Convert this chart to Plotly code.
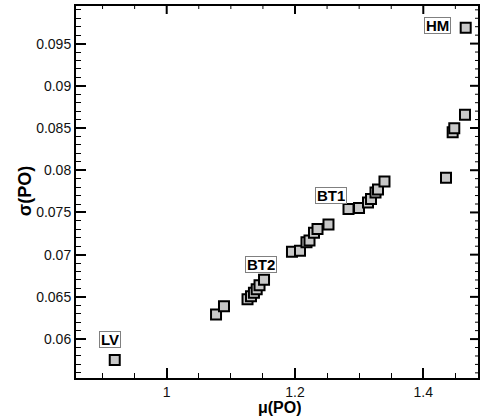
import numpy as np
import plotly.graph_objects as go

# data
mu_po = [0.919, 1.0769, 1.0893,
         1.126, 1.1314, 1.136, 1.1403, 1.1447, 1.1517,
         1.1953, 1.2078, 1.2179, 1.2226, 1.2296, 1.2351, 1.2522,
         1.2834, 1.2998, 1.3138, 1.3185, 1.3255, 1.3294, 1.3395,
         1.4354, 1.4458, 1.4483, 1.4650, 1.4661]
sigma_po = [0.05752, 0.06292, 0.06390,
            0.06472, 0.06508, 0.06549, 0.06591, 0.06638, 0.06703,
            0.07034, 0.07045, 0.07146, 0.07169, 0.07258, 0.07305, 0.07358,
            0.07541, 0.07553, 0.07618, 0.07660, 0.07736, 0.07772, 0.07866,
            0.07910, 0.08449, 0.08496, 0.08658, 0.09689]

label_text = ["HM", "BT1", "BT2", "LV"]
label_x = [1.4229, 1.2566, 1.1470, 0.9121]
label_y = [0.09709, 0.07695, 0.06878, 0.0600]

x_ticks = [1, 1.2, 1.4]
x_ticktext = ["1", "1.2", "1.4"]
y_ticks = [0.06, 0.065, 0.07, 0.075, 0.08, 0.085, 0.09, 0.095]
y_ticktext = ["0.06", "0.065", "0.07", "0.075", "0.08", "0.085", "0.09", "0.095"]

x_range = [0.8586, 1.4884]
y_range = [0.05539, 0.09969]

W, H = 480, 419
ML, MR, MT, MB = 76, 0, 4, 41
PW, PH = W - ML - MR, H - MT - MB
dx = (x_range[1] - x_range[0]) / PW   # data units per pixel
dy = (y_range[1] - y_range[0]) / PH

FONT = "Liberation Sans, Arial, Helvetica, sans-serif"

fig = go.Figure()

# top / right frame and mirrored ticks, built from the ranges and tick lists
x_minor_vals = [v for v in np.round(np.arange(0.85, 1.5, 0.05), 4)
                if x_range[0] < v < x_range[1] and v not in x_ticks]
y_minor_vals = [v for v in np.round(np.arange(0.055, 0.1, 0.001), 4)
                if y_range[0] < v < y_range[1]
                and not any(abs(v - t) < 1e-9 for t in y_ticks)]

def tick_segments(vals, length, horizontal):
    xs, ys = [], []
    for v in vals:
        if horizontal:  # ticks on right edge
            xs += [x_range[1], x_range[1] - length * dx, None]
            ys += [v, v, None]
        else:           # ticks on top edge
            xs += [v, v, None]
            ys += [y_range[1], y_range[1] - length * dy, None]
    return xs, ys

mx, my = tick_segments(x_ticks, 10, False)
ry, rx = None, None
rxx, ryy = tick_segments(y_ticks, 10, True)
fig.add_trace(go.Scatter(x=mx + rxx, y=my + ryy, mode="lines",
                         line=dict(color="black", width=2),
                         showlegend=False, hoverinfo="skip"))
nx, ny = tick_segments(x_minor_vals, 5, False)
nxx, nyy = tick_segments(y_minor_vals, 5, True)
fig.add_trace(go.Scatter(x=nx + nxx, y=ny + nyy, mode="lines",
                         line=dict(color="black", width=1),
                         showlegend=False, hoverinfo="skip"))
fig.add_trace(go.Scatter(x=[x_range[0], x_range[1], x_range[1]],
                         y=[y_range[1], y_range[1], y_range[0]],
                         mode="lines", line=dict(color="black", width=4),
                         showlegend=False, hoverinfo="skip"))

fig.add_trace(go.Scatter(
    x=mu_po, y=sigma_po, mode="markers",
    marker=dict(symbol="square", size=10, color="#c8c8c8",
                line=dict(color="black", width=2)),
    showlegend=False, cliponaxis=False,
))

for t, x, y in zip(label_text, label_x, label_y):
    fig.add_annotation(x=x, y=y, text="<b>%s</b>" % t, showarrow=False,
                       font=dict(family=FONT, size=15, color="black"),
                       bgcolor="white", bordercolor="#808080", borderwidth=1,
                       borderpad=1, height=13)

fig.add_annotation(xref="paper", yref="paper", x=0.505, y=-0.051,
                   xanchor="center", yanchor="top", showarrow=False,
                   text="<b>μ(PO)</b>", height=17,
                   font=dict(family=FONT, size=16, color="black"))

axis_common = dict(
    showgrid=False, zeroline=False, showline=True, linecolor="black",
    linewidth=2, ticks="inside", ticklen=10, tickwidth=2,
    tickcolor="black", tickfont=dict(family=FONT, size=14, color="#111"),
)
x_minor = dict(dtick=0.05, tick0=0, ticks="inside", ticklen=5, tickwidth=1,
               tickcolor="black")
y_minor = dict(dtick=0.001, tick0=0, ticks="inside", ticklen=5, tickwidth=1,
               tickcolor="black")

fig.update_layout(
    xaxis=dict(range=x_range, tickvals=x_ticks, ticktext=x_ticktext,
               minor=x_minor, **axis_common),
    yaxis=dict(range=y_range, tickvals=y_ticks, ticktext=y_ticktext,
               minor=y_minor,
               title=dict(text="<b>σ(PO)</b>",
                          font=dict(family=FONT, size=18, color="black"),
                          standoff=0),
               **axis_common),
    width=W, height=H,
    margin=dict(l=ML, r=MR, t=MT, b=MB),
    plot_bgcolor="white", paper_bgcolor="white",
)

fig.write_html("out.html", config={"displayModeBar": False},
               post_script="document.body.style.margin='0';")
